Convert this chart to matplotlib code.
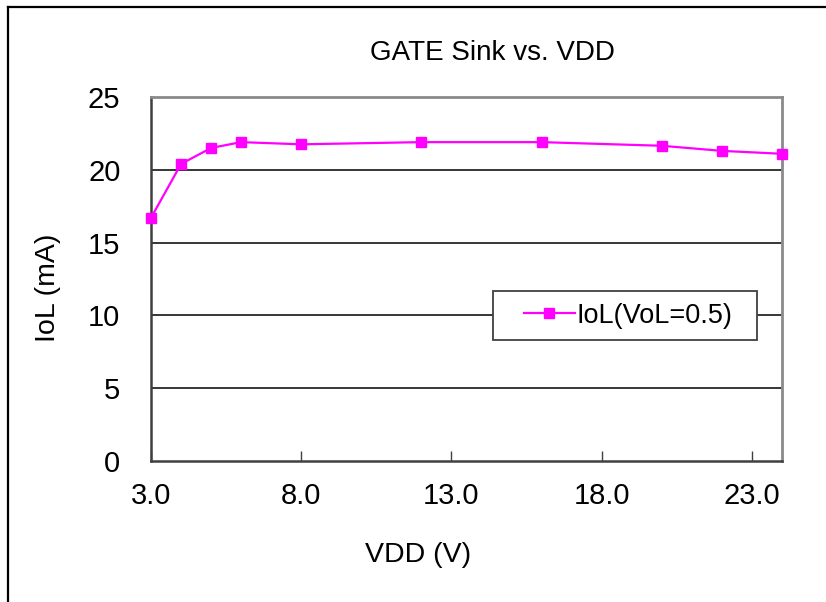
import matplotlib
matplotlib.use("Agg")
import matplotlib.pyplot as plt
from matplotlib.lines import Line2D
from matplotlib.legend_handler import HandlerLine2D

plt.rcParams['font.family'] = ['Liberation Sans', 'DejaVu Sans']

# Data
vdd = [3, 4, 5, 6, 8, 12, 16, 20, 22, 24]
iol = [16.7, 20.4, 21.5, 21.9, 21.75, 21.9, 21.9, 21.65, 21.3, 21.1]
series_label = "IoL(VoL=0.5)"
x_ticks = [3.0, 8.0, 13.0, 18.0, 23.0]
x_tick_labels = ["3.0", "8.0", "13.0", "18.0", "23.0"]
y_ticks = [0, 5, 10, 15, 20, 25]
title = "GATE Sink vs. VDD"
xlabel = "VDD (V)"
ylabel = "IoL (mA)"

W, H = 826, 602
fig = plt.figure(figsize=(W / 100, H / 100), dpi=100)
fig.patch.set_facecolor("white")

ax = fig.add_axes([151 / W, 1 - 461 / H, (782 - 151) / W, (461 - 97) / H])
ax.set_xlim(3, 24)
ax.set_ylim(0, 25)

# gridlines
for yv in y_ticks[1:-1]:
    ax.axhline(yv, color="black", lw=1.1, zorder=1)

ax.plot(vdd, iol, color="#FF00FF", lw=1.6, marker="s", markersize=7.8,
        markeredgecolor="#FF00FF", markerfacecolor="#FF00FF",
        label=series_label, zorder=5, clip_on=False)

ax.set_xticks(x_ticks)
ax.set_xticklabels(x_tick_labels)
ax.set_yticks(y_ticks)
ax.tick_params(axis="x", direction="in", length=7, width=1, color="#404040",
               labelsize=21, pad=15)
ax.tick_params(axis="y", length=0, labelsize=21, pad=22)

for side in ["left", "bottom"]:
    ax.spines[side].set_color("#404040")
    ax.spines[side].set_linewidth(1.8)
for side in ["top", "right"]:
    ax.spines[side].set_color("#8a8a8a")
    ax.spines[side].set_linewidth(2.0)

fig.text(492 / W, 1 - 53 / H, title, ha="center", va="center", fontsize=20)
fig.text(418 / W, 1 - 555 / H, xlabel, ha="center", va="center", fontsize=20.5)
fig.text(48 / W, 1 - 288 / H, ylabel, ha="center", va="center", fontsize=20.5,
         rotation=90)

LEG_FS = 19.5
OFFSET_PX = 14


class ShiftedHandler(HandlerLine2D):
    def create_artists(self, legend, orig_handle, xdescent, ydescent, width,
                       height, fontsize, trans):
        return super().create_artists(legend, orig_handle,
                                      xdescent - OFFSET_PX, ydescent,
                                      width - OFFSET_PX, height, fontsize,
                                      trans)


fs_px = LEG_FS * 100 / 72
leg = ax.legend(loc="upper left",
                bbox_to_anchor=(493 / W, 1 - 341 / H, 264 / W, 50 / H),
                bbox_transform=fig.transFigure, mode="expand",
                borderaxespad=0, borderpad=0.43,
                handlelength=70 / fs_px, handletextpad=0.08,
                fontsize=LEG_FS, fancybox=False, framealpha=1,
                edgecolor="#404040", markerscale=0.9,
                handler_map={Line2D: ShiftedHandler()})
leg.get_frame().set_linewidth(1.3)
leg.set_zorder(10)

# figure border (left and top)
fig.add_artist(Line2D([8 / W, 8 / W], [0, 1 - 7 / H], transform=fig.transFigure,
                      color="black", lw=1.6))
fig.add_artist(Line2D([8 / W, 1], [1 - 7 / H, 1 - 7 / H], transform=fig.transFigure,
                      color="black", lw=1.6))

fig.savefig("out.png", dpi=100)
